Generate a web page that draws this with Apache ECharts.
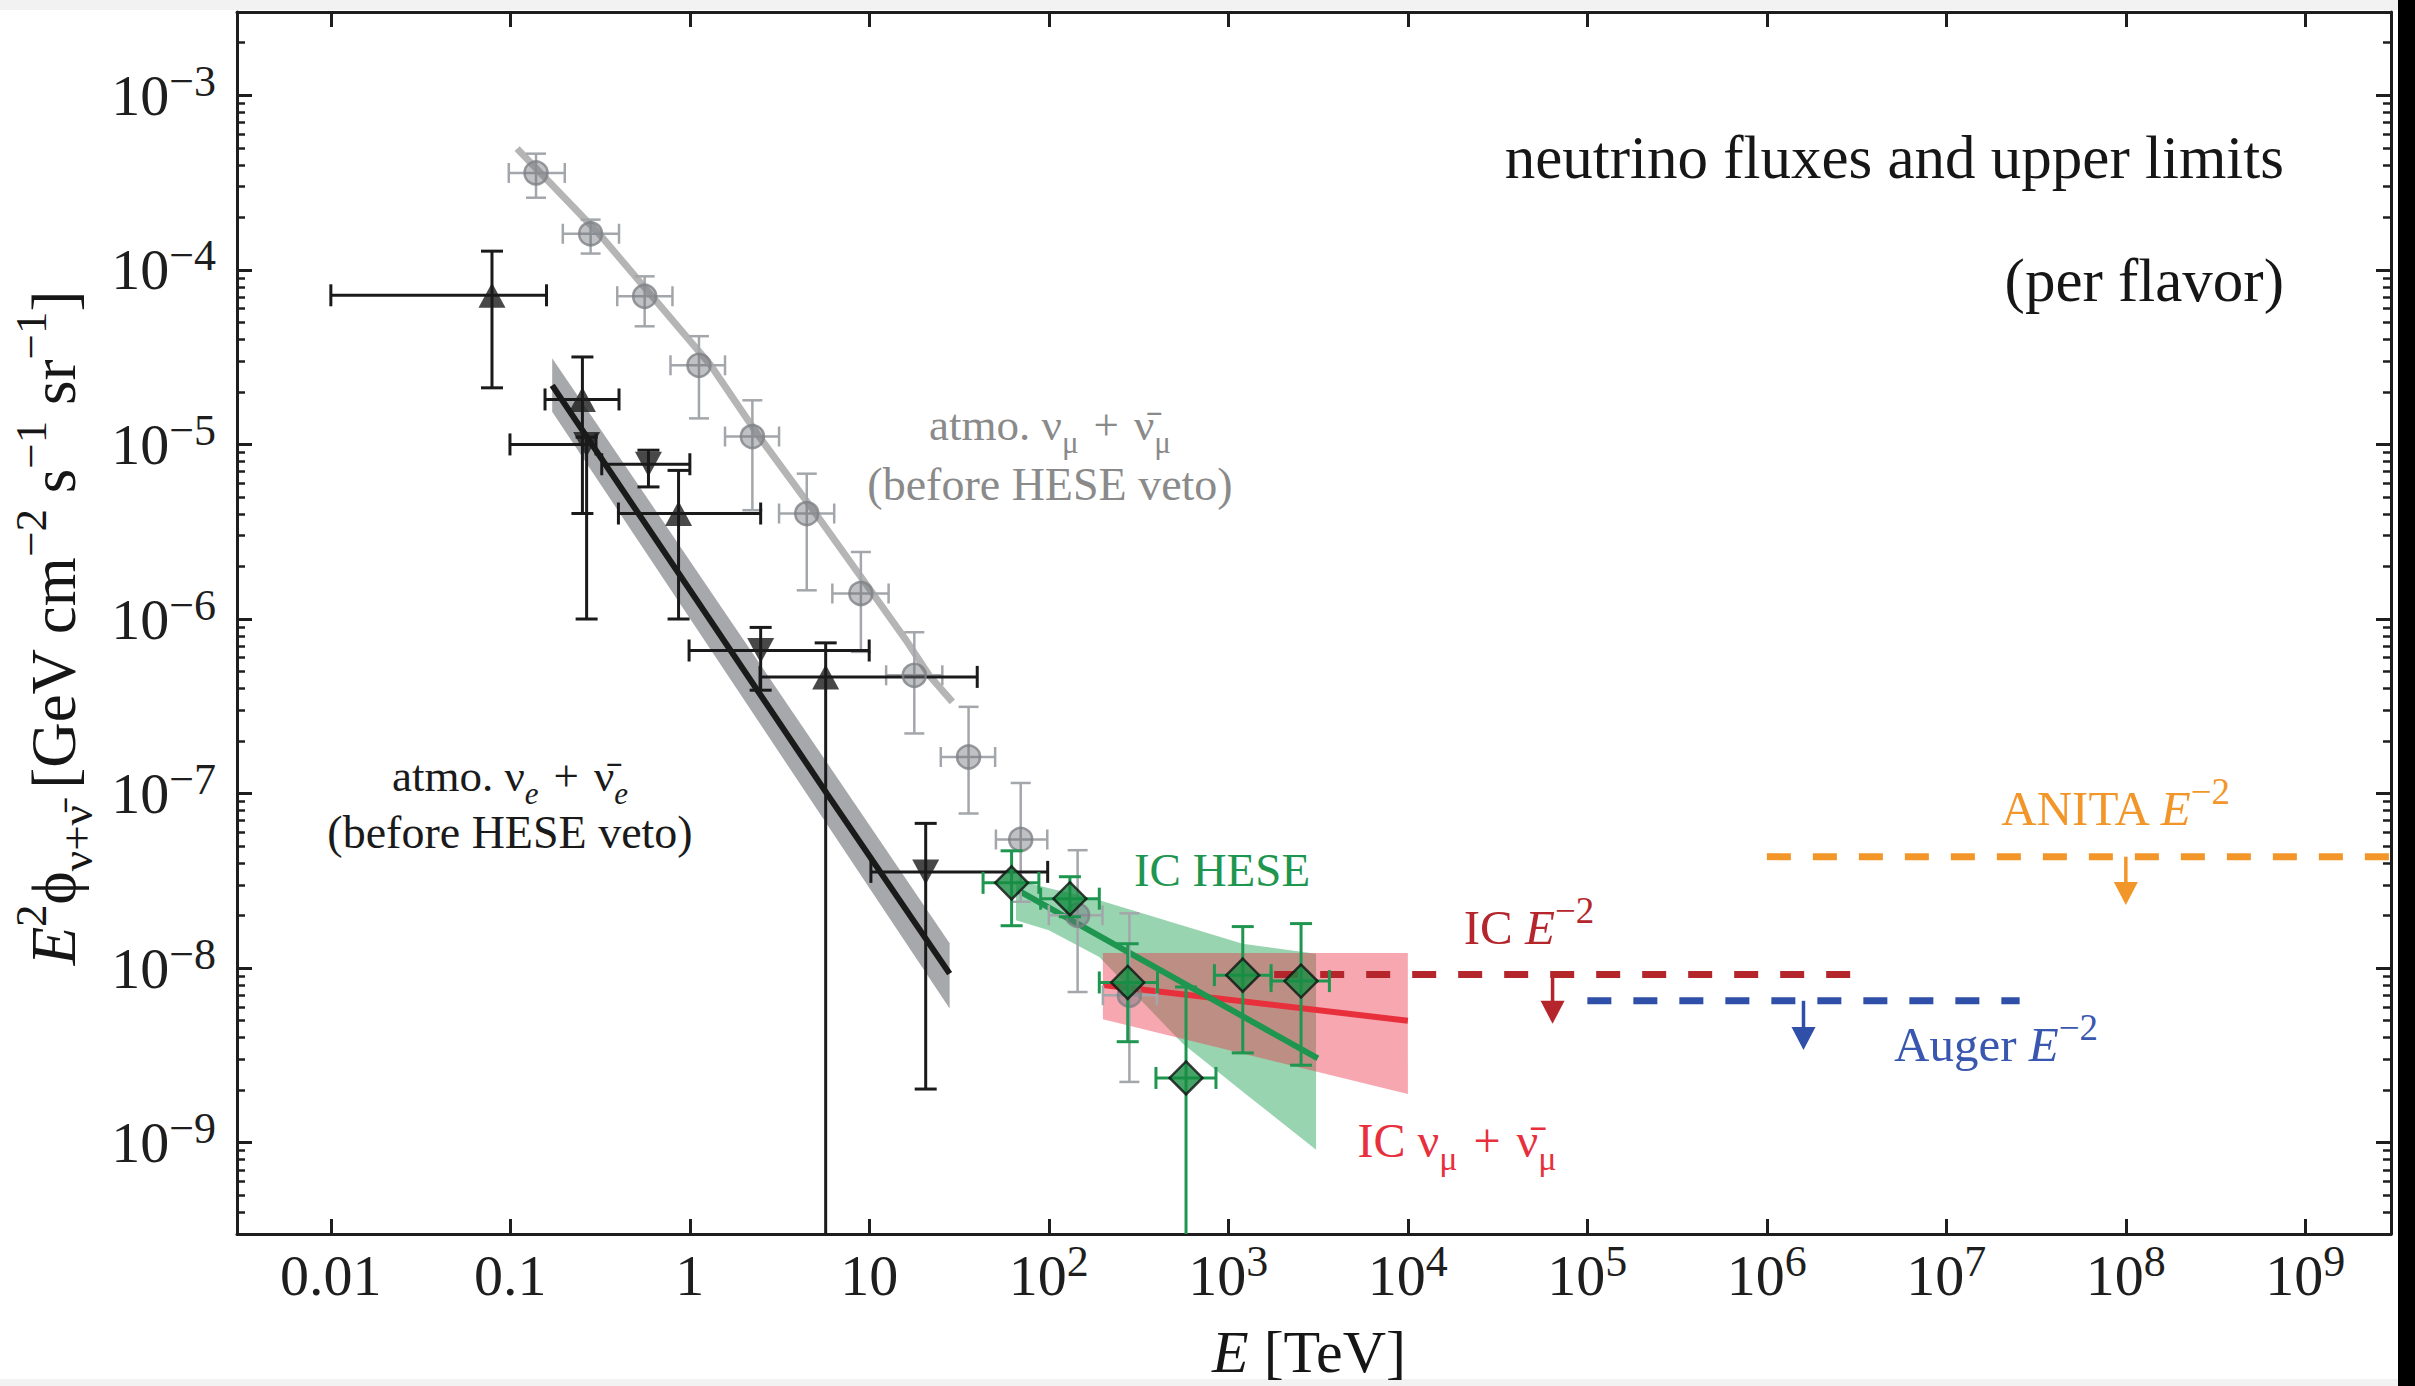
<!DOCTYPE html>
<html>
<head>
<meta charset="utf-8">
<script src="https://cdn.jsdelivr.net/npm/echarts@6/dist/echarts.min.js"></script>
<style>html,body{margin:0;padding:0;background:#fff;}#c{width:2415px;height:1386px;}</style>
</head>
<body>
<div id="c"></div>
<script>
// ---------------- axis ticks ----------------
const xTickValues = [0.01, 0.1, 1, 10, 1e2, 1e3, 1e4, 1e5, 1e6, 1e7, 1e8, 1e9];
const xTickLabels = ['0.01', '0.1', '1', '10', '10^2', '10^3', '10^4', '10^5', '10^6', '10^7', '10^8', '10^9'];
const yTickValues = [1e-9, 1e-8, 1e-7, 1e-6, 1e-5, 1e-4, 1e-3];
const yTickLabels = ['10^-9', '10^-8', '10^-7', '10^-6', '10^-5', '10^-4', '10^-3'];

// ---------------- atmospheric nu_mu + nubar_mu (grey circles) ----------------
const atmoMuE    = [0.139, 0.280, 0.560, 1.124, 2.23, 4.48, 8.97, 17.8, 35.7, 69.7, 144.6, 281];
const atmoMuF    = [3.59e-4, 1.61e-4, 7.06e-5, 2.84e-5, 1.11e-5, 4.02e-6, 1.40e-6, 4.76e-7, 1.62e-7, 5.46e-8, 2.01e-8, 7.0e-9];
const atmoMuELo  = [0.098, 0.196, 0.394, 0.78, 1.57, 3.14, 6.22, 12.4, 25.0, 50.7, 100, 200];
const atmoMuEHi  = [0.201, 0.403, 0.80, 1.57, 3.14, 6.37, 12.8, 25.5, 50.2, 98, 199, 400];
const atmoMuFLo  = [2.59e-4, 1.24e-4, 4.75e-5, 1.41e-5, 4.2e-6, 1.46e-6, 6.48e-7, 2.21e-7, 7.69e-8, 2.4e-8, 7.3e-9, 2.23e-9];
const atmoMuFHi  = [4.63e-4, 1.94e-4, 9.18e-5, 4.17e-5, 1.79e-5, 6.8e-6, 2.42e-6, 8.4e-7, 3.14e-7, 1.15e-7, 4.74e-8, 2.06e-8];
const atmoMuModelE = [0.109, 0.312, 1.306, 2.43, 5.02, 10.4, 16.0, 21.5, 29.0];
const atmoMuModelF = [4.95e-4, 1.61e-4, 2.84e-5, 1.11e-5, 4.02e-6, 1.41e-6, 7.57e-7, 4.76e-7, 3.35e-7];

// ---------------- atmospheric nu_e + nubar_e (black triangles) ----------------
const atmoEUpE   = [0.079, 0.252, 0.865, 5.71];
const atmoEUpF   = [7.15e-5, 1.81e-5, 4.02e-6, 4.66e-7];
const atmoEUpELo = [0.01, 0.156, 0.40, 2.46];
const atmoEUpEHi = [0.159, 0.403, 2.48, 39.9];
const atmoEUpFLo = [2.11e-5, 4.02e-6, 1.0e-6, 1e-11];
const atmoEUpFHi = [1.28e-4, 3.17e-5, 7.1e-6, 7.3e-7];

const atmoEDnE   = [0.266, 0.588, 2.48, 20.6];
const atmoEDnF   = [1.0e-5, 7.7e-6, 6.6e-7, 3.56e-8];
const atmoEDnELo = [0.0995, 0.323, 0.99, 10.2];
const atmoEDnEHi = [0.30, 1.0, 9.98, 98.5];
const atmoEDnFLo = [1.0e-6, 5.71e-6, 3.91e-7, 2.03e-9];
const atmoEDnFHi = [1.1e-5, 9.27e-6, 8.95e-7, 6.75e-8];

const atmoEModelE  = [0.171, 5.8, 28];
const atmoEModelF  = [2.18e-5, 1.0e-7, 9.3e-9];
const atmoEBandE   = [0.171, 28];
const atmoEBandHi  = [3.12e-5, 1.39e-8];
const atmoEBandLo  = [1.54e-5, 5.87e-9];

// ---------------- IceCube HESE (green) ----------------
const heseE   = [62, 131, 275, 581, 1203, 2541];
const heseF   = [3.08e-8, 2.5e-8, 8.28e-9, 2.35e-9, 9.12e-9, 8.43e-9];
const heseELo = [43, 90, 191, 395, 836, 1730];
const heseEHi = [88, 191, 403, 853, 1730, 3656];
const heseFLo = [1.75e-8, 1.97e-8, 3.79e-9, 1e-11, 3.27e-9, 2.78e-9];
const heseFHi = [4.7e-8, 3.34e-8, 1.38e-8, 7.8e-9, 1.73e-8, 1.8e-8];
const heseFitE = [67, 3150];
const heseFitF = [2.8e-8, 3.04e-9];
const heseBandUpE = [65.6, 191, 1202, 3080];
const heseBandUpF = [3.19e-8, 2.45e-8, 1.38e-8, 1.21e-8];
const heseBandLoE = [65.6, 100, 191, 556, 1310, 3080];
const heseBandLoF = [1.88e-8, 1.65e-8, 1.16e-8, 3.7e-9, 1.83e-9, 9.1e-10];

// ---------------- IceCube nu_mu + nubar_mu (red) ----------------
const icMuBandE  = [200, 1e4];
const icMuBandHi = [1.22e-8, 1.22e-8];
const icMuBandLo = [5.1e-9, 1.9e-9];
const icMuFitE   = [200, 1e4];
const icMuFitF   = [8.0e-9, 5.0e-9];

// ---------------- E^-2 upper limits ----------------
const icLimitE     = [1800, 3.1e6];
const icLimitF     = [9.2e-9, 9.2e-9];
const augerLimitE  = [1.0e5, 2.56e7];
const augerLimitF  = [6.5e-9, 6.5e-9];
const anitaLimitE  = [1e6, 3e9];
const anitaLimitF  = [4.35e-8, 4.35e-8];
const limitArrowE    = [6.4e4, 1.6e6, 1e8];
const limitArrowFrom = [9.2e-9, 6.5e-9, 4.35e-8];
const limitArrowTo   = [4.8e-9, 3.4e-9, 2.3e-8];

// ---------------- styling ----------------
const SERIF = '"Liberation Serif", "Times New Roman", "DejaVu Serif", serif';
const AXIS = '#1e1e1e';
const X_MIN = 0.003, X_MAX = 3e9, Y_MIN = 3e-10, Y_MAX = 3e-3;
const C_GREY_PT = '#a3a6aa', C_GREY_LINE = '#b5b5b5', C_BLACK = '#1a1a1a';
const C_GREEN = '#1e9650', C_GREEN_FILL = '#178c42', C_RED = '#e8303c', C_DARKRED = '#b4262c';
const C_BLUE = '#2f4fa8', C_ORANGE = '#f3962a';
const arrowColors = [C_DARKRED, C_BLUE, C_ORANGE];
const SP = '\u2004';

const zip = (a, b) => a.map((v, i) => [v, b[i]]);

function richLabel(s) {
  const i = s.indexOf('^');
  if (i < 0) return '{b|' + s + '}';
  return '{b|' + s.slice(0, i) + '}{s|' + s.slice(i + 1).replace('-', '\u2212') + '}';
}
function lookup(values, labels, v) {
  const lv = Math.log10(v);
  for (let i = 0; i < values.length; i++) {
    if (Math.abs(Math.log10(values[i]) - lv) < 1e-6) return richLabel(labels[i]);
  }
  return '';
}
const tickRich = {
  b: {fontFamily: SERIF, fontSize: 58, color: AXIS, lineHeight: 72},
  s: {fontFamily: SERIF, fontSize: 44, color: AXIS, verticalAlign: 'top'}
};

// minor log ticks (2..9 x 10^n) inside the y range
const yMinorValues = [];
for (let e = -10; e <= -3; e++) {
  for (let m = 2; m <= 9; m++) {
    const v = m * Math.pow(10, e);
    if (v > Y_MIN * 1.001 && v < Y_MAX * 0.999) yMinorValues.push(v);
  }
}

function xAxisDef(pos, labels) {
  return {
    type: 'log', logBase: 10, min: X_MIN, max: X_MAX, position: pos,
    axisLine: {show: true, onZero: false, lineStyle: {color: AXIS, width: 3}},
    axisTick: {show: true, inside: true, length: 15, customValues: xTickValues, lineStyle: {color: AXIS, width: 3}},
    axisLabel: labels ? {show: true, customValues: xTickValues, margin: 5,
      formatter: v => lookup(xTickValues, xTickLabels, v), rich: tickRich} : {show: false},
    splitLine: {show: false}, minorTick: {show: false}, minorSplitLine: {show: false}
  };
}
function yAxisDef(pos, labels, minor) {
  return {
    type: 'log', logBase: 10, min: Y_MIN, max: Y_MAX, position: pos,
    axisLine: {show: !minor, onZero: false, lineStyle: {color: AXIS, width: 3}},
    axisTick: {show: true, inside: true, length: minor ? 8 : 15,
      customValues: minor ? yMinorValues : yTickValues, lineStyle: {color: AXIS, width: minor ? 2.5 : 3}},
    axisLabel: labels ? {show: true, customValues: yTickValues, margin: 21,
      formatter: v => lookup(yTickValues, yTickLabels, v), rich: tickRich} : {show: false},
    splitLine: {show: false}, minorTick: {show: false}, minorSplitLine: {show: false}
  };
}

function bandSeries(upE, upF, loE, loF, fill, z) {
  return {
    type: 'custom', silent: true, z: z, xAxisIndex: 0, yAxisIndex: 0,
    data: [[upE[0], upF[0]]],
    renderItem: (params, api) => {
      const up = upE.map((e, i) => api.coord([e, upF[i]]));
      const lo = loE.map((e, i) => api.coord([e, loF[i]])).reverse();
      return {type: 'polygon', shape: {points: up.concat(lo)}, style: {fill: fill}};
    }
  };
}

function errorSeries(E, F, ELo, EHi, FLo, FHi, color, lw, cap, z) {
  return {
    type: 'custom', silent: true, z: z, xAxisIndex: 0, yAxisIndex: 0,
    encode: {x: 0, y: 1},
    data: E.map((e, i) => [e, F[i], ELo[i], EHi[i], FLo[i], FHi[i]]),
    renderItem: (params, api) => {
      const e = api.value(0), f = api.value(1);
      const cs = params.coordSys;
      const bottom = cs.y + cs.height;
      const a = api.coord([api.value(2), f]);
      const b = api.coord([api.value(3), f]);
      const lowVal = api.value(4);
      const open = lowVal < Y_MIN;
      const c = open ? [api.coord([e, f])[0], bottom] : api.coord([e, lowVal]);
      const d = api.coord([e, api.value(5)]);
      const st = {stroke: color, lineWidth: lw};
      const h = cap / 2;
      const ch = [
        {type: 'line', shape: {x1: a[0], y1: a[1], x2: b[0], y2: b[1]}, style: st},
        {type: 'line', shape: {x1: a[0], y1: a[1] - h, x2: a[0], y2: a[1] + h}, style: st},
        {type: 'line', shape: {x1: b[0], y1: b[1] - h, x2: b[0], y2: b[1] + h}, style: st},
        {type: 'line', shape: {x1: c[0], y1: c[1], x2: d[0], y2: d[1]}, style: st},
        {type: 'line', shape: {x1: d[0] - h, y1: d[1], x2: d[0] + h, y2: d[1]}, style: st}
      ];
      if (!open) ch.push({type: 'line', shape: {x1: c[0] - h, y1: c[1], x2: c[0] + h, y2: c[1]}, style: st});
      return {type: 'group', children: ch};
    }
  };
}

function lineSeries(E, F, color, width, z, dashed) {
  return {
    type: 'line', silent: true, z: z, xAxisIndex: 0, yAxisIndex: 0,
    data: zip(E, F), showSymbol: false, symbol: 'none', smooth: false,
    lineStyle: {color: color, width: width, type: dashed ? [24, 22] : 'solid', cap: 'butt'},
    emphasis: {disabled: true}
  };
}

function annRich(size, color, subRatio) {
  const r = subRatio || 0.7;
  const base = {fontFamily: SERIF, fill: color, color: color};
  return {
    t:   Object.assign({}, base, {fontSize: size, lineHeight: Math.round(size * 1.45)}),
    i:   Object.assign({}, base, {fontSize: size, fontStyle: 'italic', lineHeight: Math.round(size * 1.45)}),
    sub: Object.assign({}, base, {fontSize: Math.round(size * r), verticalAlign: 'bottom'}),
    isub:Object.assign({}, base, {fontSize: Math.round(size * r), fontStyle: 'italic', verticalAlign: 'bottom'}),
    sup: Object.assign({}, base, {fontSize: Math.round(size * r), verticalAlign: 'top'})
  };
}
function textEl(x, y, text, size, color, align, rot, subRatio) {
  return {
    type: 'text', x: x, y: y, rotation: rot || 0, silent: true, z: 100,
    style: {text: text, rich: annRich(size, color, subRatio), fontFamily: SERIF, fontSize: size,
      fill: color, align: align || 'center', verticalAlign: 'middle',
      textAlign: align || 'center', textVerticalAlign: 'middle'}
  };
}

const chart = echarts.init(document.getElementById('c'), null, {renderer: 'svg', width: 2415, height: 1386});

const option = {
  animation: false,
  backgroundColor: '#ffffff',
  grid: {left: 237, top: 12, right: 24, bottom: 152, containLabel: false, outerBoundsMode: 'none', show: false},
  xAxis: [xAxisDef('bottom', true), xAxisDef('top', false)],
  yAxis: [yAxisDef('left', true, false), yAxisDef('right', false, false),
          yAxisDef('left', false, true), yAxisDef('right', false, true)],
  graphic: [
    {type: 'rect', silent: true, z: 0, shape: {x: 0, y: 0, width: 2415, height: 10}, style: {fill: '#f2f2f2'}},
    {type: 'rect', silent: true, z: 0, shape: {x: 0, y: 1379, width: 2415, height: 7}, style: {fill: '#f2f2f2'}},
    {type: 'rect', silent: true, z: 0, shape: {x: 2398, y: 0, width: 17, height: 1386}, style: {fill: '#000000'}},
    textEl(2284, 157, '{t|neutrino fluxes and upper limits}', 61, '#161616', 'right'),
    textEl(2284, 280, '{t|(per flavor)}', 61, '#161616', 'right'),
    textEl(1050, 425, '{t|atmo. ν}{sub|μ}{t|' + SP + '+' + SP + 'ν̄}{sub|μ}', 45, '#8a8a8a'),
    textEl(1050, 484, '{t|(before HESE veto)}', 46, '#8a8a8a'),
    textEl(510, 776, '{t|atmo. ν}{isub|e}{t|' + SP + '+' + SP + 'ν̄}{isub|e}', 45, '#1a1a1a'),
    textEl(510, 832, '{t|(before HESE veto)}', 46, '#1a1a1a'),
    textEl(1222, 870, '{t|IC HESE}', 47, C_GREEN),
    textEl(1529, 927, '{t|IC }{i|E}{sup|−2}', 49, C_DARKRED, 'center', 0, 0.75),
    textEl(1457, 1140, '{t|IC ν}{sub|μ}{t|' + SP + '+' + SP + 'ν̄}{sub|μ}', 48, C_RED),
    textEl(2115, 808, '{t|ANITA }{i|E}{sup|−2}', 49, C_ORANGE, 'center', 0, 0.75),
    textEl(1996, 1044, '{t|Auger }{i|E}{sup|−2}', 49, '#3a57b0', 'center', 0, 0.75),
    textEl(1309, 1352, '{i|E}{t| [TeV]}', 60, '#161616'),
    textEl(54, 628, '{i|E}{sup|2}{t|ϕ}{sub|ν+ν̄}{t| [GeV cm}{sup|−2}{t| s}{sup|−1}{t| sr}{sup|−1}{t|]}', 63, '#161616', 'center', Math.PI / 2, 0.72)
  ],
  series: [
    // bands
    bandSeries(heseBandUpE, heseBandUpF, heseBandLoE, heseBandLoF, 'rgba(40,165,90,0.48)', 1),
    bandSeries(icMuBandE, icMuBandHi, icMuBandE, icMuBandLo, 'rgba(236,60,80,0.45)', 1),
    bandSeries(atmoEBandE, atmoEBandHi, atmoEBandE, atmoEBandLo, '#a7a8ab', 1),
    // model / fit lines
    lineSeries(atmoMuModelE, atmoMuModelF, C_GREY_LINE, 7, 2),
    lineSeries(atmoEModelE, atmoEModelF, C_BLACK, 6, 2),
    lineSeries(icMuFitE, icMuFitF, C_RED, 6, 3),
    lineSeries(heseFitE, heseFitF, C_GREEN, 6, 3),
    // limits
    lineSeries(icLimitE, icLimitF, C_DARKRED, 7, 2, true),
    lineSeries(augerLimitE, augerLimitF, C_BLUE, 7, 2, true),
    lineSeries(anitaLimitE, anitaLimitF, C_ORANGE, 7, 2, true),
    {
      type: 'custom', silent: true, z: 3, xAxisIndex: 0, yAxisIndex: 0, encode: {x: 0, y: 1},
      data: limitArrowE.map((e, i) => [e, limitArrowFrom[i], limitArrowTo[i]]),
      renderItem: (params, api) => {
        const p0 = api.coord([api.value(0), api.value(1)]);
        const p1 = api.coord([api.value(0), api.value(2)]);
        const col = arrowColors[params.dataIndex];
        const hl = 23, hw = 12;
        return {type: 'group', children: [
          {type: 'line', shape: {x1: p0[0], y1: p0[1], x2: p1[0], y2: p1[1] - hl + 2}, style: {stroke: col, lineWidth: 3.5}},
          {type: 'polygon', shape: {points: [[p1[0] - hw, p1[1] - hl], [p1[0] + hw, p1[1] - hl], [p1[0], p1[1]]]}, style: {fill: col}}
        ]};
      }
    },
    // atmospheric nu_mu data
    errorSeries(atmoMuE, atmoMuF, atmoMuELo, atmoMuEHi, atmoMuFLo, atmoMuFHi, C_GREY_PT, 2.5, 20, 4),
    {type: 'scatter', silent: true, z: 5, data: zip(atmoMuE, atmoMuF), symbol: 'circle', symbolSize: 23,
     itemStyle: {color: 'rgba(110,114,120,0.55)', borderColor: '#7e8186', borderWidth: 2.5}},
    // atmospheric nu_e data
    errorSeries(atmoEUpE, atmoEUpF, atmoEUpELo, atmoEUpEHi, atmoEUpFLo, atmoEUpFHi, C_BLACK, 3, 22, 4),
    errorSeries(atmoEDnE, atmoEDnF, atmoEDnELo, atmoEDnEHi, atmoEDnFLo, atmoEDnFHi, C_BLACK, 3, 22, 4),
    {type: 'scatter', silent: true, z: 5, data: zip(atmoEUpE, atmoEUpF), symbol: 'triangle', symbolSize: [27, 25],
     itemStyle: {color: C_BLACK}},
    {type: 'scatter', silent: true, z: 5, data: zip(atmoEDnE, atmoEDnF), symbol: 'triangle', symbolRotate: 180, symbolSize: [27, 25],
     itemStyle: {color: C_BLACK}},
    // HESE data
    errorSeries(heseE, heseF, heseELo, heseEHi, heseFLo, heseFHi, C_GREEN, 3, 22, 6),
    {type: 'scatter', silent: true, z: 7, data: zip(heseE, heseF), symbol: 'diamond', symbolSize: 33,
     itemStyle: {color: C_GREEN_FILL, borderColor: '#111111', borderWidth: 2.5}}
  ]
};
chart.setOption(option);
</script>
</body>
</html>
